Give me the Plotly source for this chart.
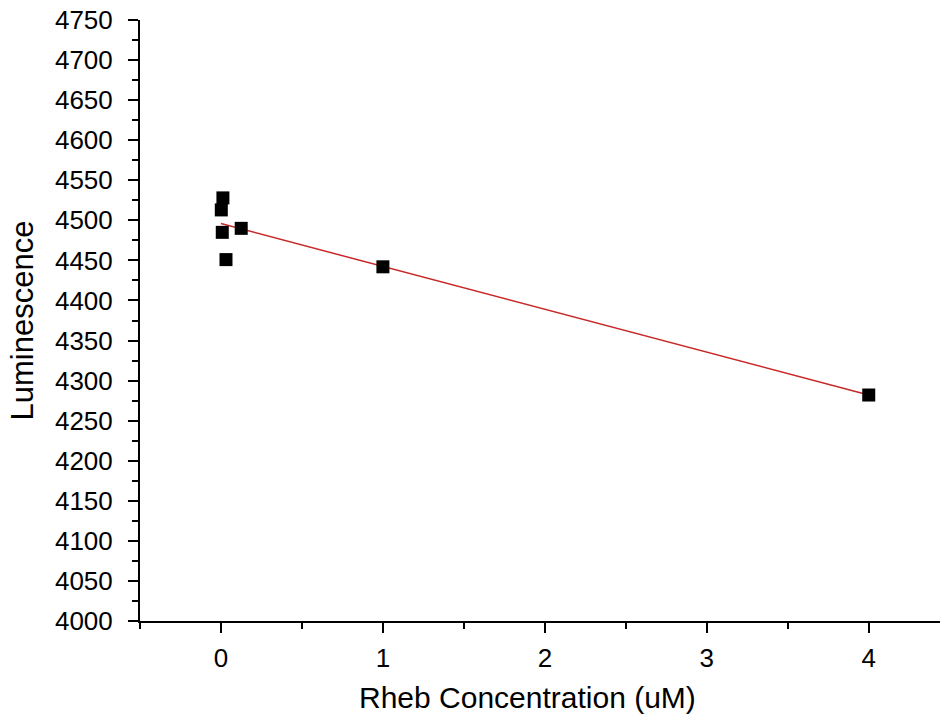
import plotly.graph_objects as go

# Data
conc = [0.002, 0.012, 0.008, 0.031, 0.125, 1.0, 4.0]
lum = [4513, 4528, 4485, 4451, 4490, 4442, 4282]

# Linear fit line endpoints
fit_x = [0.0, 4.0]
fit_y = [4496, 4282]

x_title = "Rheb Concentration (uM)"
y_title = "Luminescence"

fig = go.Figure()
fig.add_trace(go.Scatter(x=fit_x, y=fit_y, mode="lines",
                         line=dict(color="rgb(200,40,40)", width=1.5),
                         showlegend=False, hoverinfo="skip"))
fig.add_trace(go.Scatter(x=conc, y=lum, mode="markers",
                         marker=dict(symbol="square", size=13, color="black",
                                     line=dict(width=0)),
                         showlegend=False))

font = "Liberation Sans, Arial, sans-serif"
fig.update_layout(
    width=940, height=714,
    margin=dict(l=140, r=0, t=20, b=93, pad=0),
    paper_bgcolor="white", plot_bgcolor="white",
    font=dict(family=font, color="black", size=26),
    xaxis=dict(range=[-0.5, 4.44], dtick=1, tick0=0, ticks="outside",
               ticklen=10, tickwidth=2, tickcolor="black",
               showline=True, linecolor="black", linewidth=2,
               showgrid=False, zeroline=False,
               tickfont=dict(size=26), ticklabelstandoff=3,
               minor=dict(dtick=0.5, tick0=0, ticks="outside", ticklen=6,
                          tickwidth=2, tickcolor="black", showgrid=False)),
    yaxis=dict(range=[4000, 4750], dtick=50, tick0=4000, ticks="outside",
               ticklen=10, tickwidth=2, tickcolor="black",
               showline=True, linecolor="black", linewidth=2,
               showgrid=False, zeroline=False,
               tickfont=dict(size=26), ticklabelstandoff=10,
               minor=dict(dtick=25, tick0=4000, ticks="outside", ticklen=6,
                          tickwidth=2, tickcolor="black", showgrid=False),
               title=dict(text=y_title, font=dict(size=31), standoff=12)),
    annotations=[dict(text=x_title, xref="paper", yref="paper",
                      x=(527 - 140) / 800, y=-(716 - 621) / 601,
                      xanchor="center", yanchor="bottom", showarrow=False,
                      font=dict(size=30, family=font, color="black"))],
)

fig.write_html("out.html")
